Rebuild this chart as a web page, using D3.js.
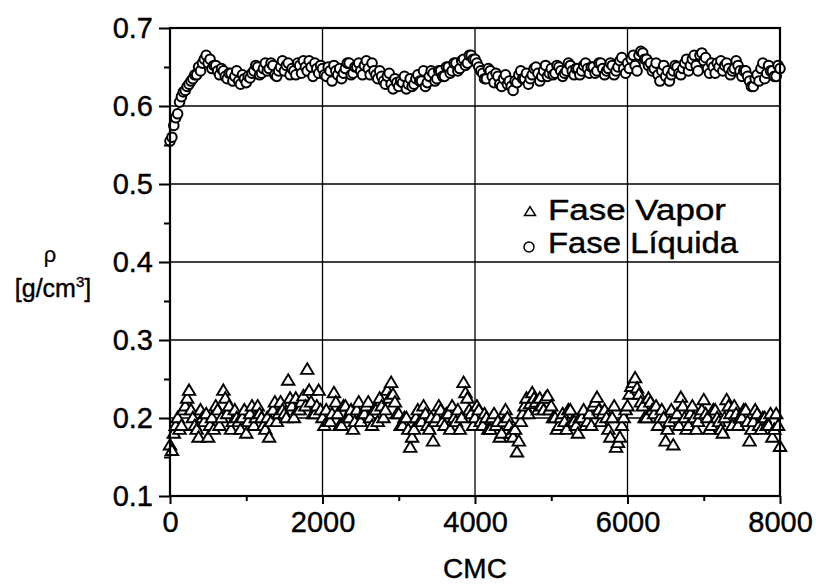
<!DOCTYPE html>
<html>
<head>
<meta charset="utf-8">
<script src="https://cdn.jsdelivr.net/npm/d3@7"></script>
<style>
  body { margin: 0; background: #fff; }
  text { font-family: "Liberation Sans", Arial, sans-serif; fill: #000; stroke: #000; stroke-width: 0.4px; }
</style>
</head>
<body>
<div id="chart"></div>
<script>
// CMC step between samples
var cmcStep = 25;

// density of the liquid phase, g/cm3 (one value every 25 CMC, 0..8000)
var liquido = [
  0.555, 0.56, 0.575, 0.585, 0.59, 0.605, 0.612, 0.618, 0.62, 0.625, 0.628, 0.632, 0.635, 0.64, 0.64, 0.65, 0.645, 0.655, 0.66, 0.665,
  0.655, 0.66, 0.648, 0.652, 0.652, 0.645, 0.64, 0.648, 0.645, 0.638, 0.635, 0.642, 0.642, 0.632, 0.638, 0.645, 0.632, 0.628, 0.64, 0.635,
  0.63, 0.638, 0.636, 0.642, 0.645, 0.652, 0.65, 0.64, 0.642, 0.648, 0.655, 0.645, 0.648, 0.655, 0.652, 0.64, 0.638, 0.645, 0.65, 0.658,
  0.645, 0.652, 0.655, 0.64, 0.648, 0.645, 0.64, 0.655, 0.652, 0.642, 0.658, 0.65, 0.645, 0.658, 0.65, 0.638, 0.655, 0.648, 0.642, 0.652,
  0.648, 0.64, 0.638, 0.65, 0.645, 0.632, 0.652, 0.645, 0.64, 0.648, 0.635, 0.642, 0.648, 0.655, 0.655, 0.64, 0.642, 0.65, 0.65, 0.655,
  0.645, 0.64, 0.652, 0.658, 0.648, 0.64, 0.655, 0.645, 0.64, 0.635, 0.645, 0.638, 0.632, 0.628, 0.638, 0.642, 0.628, 0.622, 0.635, 0.63,
  0.625, 0.632, 0.63, 0.638, 0.622, 0.628, 0.635, 0.625, 0.628, 0.635, 0.64, 0.632, 0.632, 0.645, 0.625, 0.63, 0.638, 0.645, 0.642, 0.632,
  0.635, 0.645, 0.645, 0.638, 0.638, 0.65, 0.65, 0.642, 0.645, 0.655, 0.655, 0.645, 0.648, 0.658, 0.66, 0.652, 0.655, 0.665, 0.665, 0.66,
  0.66, 0.655, 0.65, 0.645, 0.642, 0.635, 0.635, 0.648, 0.645, 0.638, 0.63, 0.642, 0.638, 0.628, 0.625, 0.635, 0.64, 0.628, 0.632, 0.625,
  0.62, 0.632, 0.63, 0.64, 0.645, 0.635, 0.635, 0.642, 0.628, 0.635, 0.64, 0.648, 0.65, 0.642, 0.632, 0.638, 0.645, 0.652, 0.638, 0.642,
  0.648, 0.64, 0.642, 0.652, 0.65, 0.645, 0.638, 0.642, 0.645, 0.655, 0.652, 0.645, 0.64, 0.648, 0.648, 0.64, 0.645, 0.652, 0.655, 0.648,
  0.642, 0.65, 0.65, 0.642, 0.645, 0.655, 0.655, 0.648, 0.64, 0.645, 0.648, 0.655, 0.652, 0.64, 0.645, 0.65, 0.658, 0.662, 0.648, 0.642,
  0.655, 0.648, 0.66, 0.665, 0.652, 0.645, 0.665, 0.67, 0.668, 0.66, 0.66, 0.652, 0.655, 0.645, 0.648, 0.655, 0.64, 0.632, 0.645, 0.652,
  0.638, 0.645, 0.632, 0.64, 0.645, 0.652, 0.65, 0.642, 0.64, 0.648, 0.655, 0.66, 0.645, 0.652, 0.66, 0.665, 0.652, 0.645, 0.665, 0.668,
  0.658, 0.662, 0.648, 0.642, 0.655, 0.65, 0.642, 0.655, 0.65, 0.658, 0.645, 0.652, 0.655, 0.648, 0.64, 0.645, 0.648, 0.658, 0.652, 0.645,
  0.638, 0.645, 0.645, 0.638, 0.632, 0.625, 0.625, 0.635, 0.64, 0.632, 0.648, 0.655, 0.635, 0.642, 0.652, 0.645, 0.645, 0.638, 0.638, 0.652,
  0.648
];

// density of the vapour phase, g/cm3
var vapor = [
  0.165, 0.158, 0.18, 0.19, 0.2, 0.185, 0.19, 0.21, 0.215, 0.225, 0.235, 0.21, 0.2, 0.19, 0.185, 0.175, 0.21, 0.2, 0.195, 0.205,
  0.175, 0.19, 0.2, 0.185, 0.215, 0.21, 0.19, 0.2, 0.235, 0.225, 0.205, 0.215, 0.185, 0.195, 0.21, 0.2, 0.195, 0.185, 0.2, 0.21,
  0.18, 0.195, 0.205, 0.215, 0.19, 0.2, 0.215, 0.205, 0.2, 0.19, 0.185, 0.2, 0.175, 0.195, 0.21, 0.22, 0.195, 0.205, 0.22, 0.21,
  0.205, 0.2, 0.248, 0.225, 0.215, 0.2, 0.225, 0.21, 0.21, 0.22, 0.228, 0.215, 0.262, 0.235, 0.22, 0.205, 0.205, 0.215, 0.235, 0.21,
  0.2, 0.19, 0.21, 0.195, 0.195, 0.205, 0.232, 0.22, 0.205, 0.19, 0.19, 0.215, 0.215, 0.2, 0.2, 0.21, 0.185, 0.195, 0.21, 0.22,
  0.195, 0.205, 0.205, 0.215, 0.22, 0.2, 0.19, 0.21, 0.21, 0.195, 0.225, 0.215, 0.2, 0.21, 0.235, 0.225, 0.245, 0.23, 0.22, 0.205,
  0.205, 0.19, 0.19, 0.2, 0.2, 0.185, 0.162, 0.175, 0.185, 0.2, 0.21, 0.195, 0.195, 0.215, 0.205, 0.19, 0.185, 0.2, 0.17, 0.195,
  0.2, 0.215, 0.21, 0.195, 0.19, 0.205, 0.205, 0.185, 0.215, 0.2, 0.195, 0.21, 0.185, 0.2, 0.245, 0.232, 0.225, 0.21, 0.205, 0.19,
  0.2, 0.215, 0.21, 0.195, 0.19, 0.205, 0.2, 0.185, 0.185, 0.2, 0.205, 0.19, 0.195, 0.175, 0.18, 0.195, 0.21, 0.2, 0.19, 0.18,
  0.175, 0.185, 0.156, 0.17, 0.195, 0.205, 0.215, 0.225, 0.205, 0.218, 0.232, 0.225, 0.22, 0.21, 0.225, 0.215, 0.21, 0.225, 0.228, 0.21,
  0.215, 0.2, 0.2, 0.185, 0.19, 0.2, 0.205, 0.195, 0.185, 0.21, 0.21, 0.195, 0.195, 0.19, 0.18, 0.2, 0.2, 0.21, 0.19, 0.195,
  0.205, 0.19, 0.215, 0.22, 0.226, 0.21, 0.195, 0.205, 0.21, 0.2, 0.185, 0.175, 0.2, 0.215, 0.162, 0.168, 0.175, 0.19, 0.2, 0.21,
  0.215, 0.23, 0.24, 0.245, 0.251, 0.238, 0.23, 0.22, 0.215, 0.2, 0.2, 0.225, 0.22, 0.21, 0.205, 0.215, 0.19, 0.2, 0.21, 0.2,
  0.17, 0.185, 0.195, 0.21, 0.165, 0.2, 0.205, 0.19, 0.226, 0.215, 0.2, 0.185, 0.19, 0.205, 0.215, 0.2, 0.185, 0.195, 0.205, 0.21,
  0.223, 0.205, 0.2, 0.185, 0.19, 0.21, 0.21, 0.2, 0.195, 0.185, 0.18, 0.2, 0.223, 0.215, 0.205, 0.19, 0.215, 0.205, 0.19, 0.2,
  0.2, 0.21, 0.21, 0.195, 0.17, 0.185, 0.195, 0.21, 0.205, 0.19, 0.185, 0.2, 0.2, 0.19, 0.19, 0.205, 0.175, 0.185, 0.205, 0.19,
  0.163
];

var xTicks = [0, 2000, 4000, 6000, 8000];
var xMinor = [1000, 3000, 5000, 7000];
var yTicks = [0.1, 0.2, 0.3, 0.4, 0.5, 0.6, 0.7];
var yMinor = [0.15, 0.25, 0.35, 0.45, 0.55, 0.65];
var legendLabels = ["Fase Vapor", "Fase Líquida"];

var margin = {top: 28, right: 36, bottom: 91, left: 170},
    width = 816 - margin.left - margin.right,
    height = 587 - margin.top - margin.bottom;

var svg = d3.select("#chart").append("svg")
    .attr("width", 816)
    .attr("height", 587);

svg.append("rect").attr("width", 816).attr("height", 587).attr("fill", "#fff");

var g = svg.append("g")
    .attr("transform", "translate(" + margin.left + "," + margin.top + ")");

var x = d3.scaleLinear().domain([0, 8000]).range([0, width]);
var y = d3.scaleLinear().domain([0.1, 0.7]).range([height, 0]);

// grid
g.append("g").selectAll("line").data(yTicks.slice(1, -1)).enter()
    .append("line")
    .attr("x1", 0).attr("x2", width)
    .attr("y1", function(d) { return y(d); })
    .attr("y2", function(d) { return y(d); })
    .attr("stroke", "#000").attr("stroke-width", 1.3);

g.append("g").selectAll("line").data(xTicks.slice(1, -1)).enter()
    .append("line")
    .attr("y1", 0).attr("y2", height)
    .attr("x1", function(d) { return x(d); })
    .attr("x2", function(d) { return x(d); })
    .attr("stroke", "#000").attr("stroke-width", 1.3);

// triangle path centred on the point
var tri = function(w, h) {
    return "M0," + (-h * 0.6) + "L" + (w / 2) + "," + (h * 0.4) + "L" + (-w / 2) + "," + (h * 0.4) + "Z";
};

// liquid phase (circles)
g.append("g").selectAll("circle").data(liquido).enter()
    .append("circle")
    .attr("cx", function(d, i) { return x(i * cmcStep); })
    .attr("cy", function(d) { return y(d); })
    .attr("r", 4.8)
    .attr("fill", "#fff")
    .attr("stroke", "#000")
    .attr("stroke-width", 2);

// vapour phase (triangles)
g.append("g").selectAll("path").data(vapor).enter()
    .append("path")
    .attr("d", tri(12.5, 10.5))
    .attr("transform", function(d, i) { return "translate(" + x(i * cmcStep) + "," + y(d) + ")"; })
    .attr("fill", "#fff")
    .attr("stroke", "#000")
    .attr("stroke-width", 1.9);

// axes
var yAxis = g.append("g")
    .call(d3.axisLeft(y).tickValues(yTicks).tickFormat(d3.format(".1f")).tickSize(11).tickPadding(6));
var yAxisMinor = g.append("g")
    .call(d3.axisLeft(y).tickValues(yMinor).tickFormat("").tickSize(6));
var xAxis = g.append("g")
    .attr("transform", "translate(0," + height + ")")
    .call(d3.axisBottom(x).tickValues(xTicks).tickFormat(d3.format("d")).tickSize(8).tickPadding(7));
var xAxisMinor = g.append("g")
    .attr("transform", "translate(0," + height + ")")
    .call(d3.axisBottom(x).tickValues(xMinor).tickFormat("").tickSize(5));

[yAxis, yAxisMinor, xAxis, xAxisMinor].forEach(function(a) {
    a.select(".domain").remove();
    a.selectAll("line").attr("stroke", "#000").attr("stroke-width", 2);
    a.selectAll("text").style("font-size", "29px").attr("fill", "#000")
        .style("font-family", "'Liberation Sans', Arial, sans-serif");
});

// frame
g.append("rect")
    .attr("width", width).attr("height", height)
    .attr("fill", "none").attr("stroke", "#000").attr("stroke-width", 2.2);

// axis titles
svg.append("text")
    .attr("x", margin.left + width / 2).attr("y", 578)
    .attr("text-anchor", "middle")
    .style("font-size", "28px")
    .text("CMC");

svg.append("text")
    .attr("x", 50).attr("y", 262)
    .attr("text-anchor", "middle")
    .style("font-size", "22px")
    .style("stroke-width", "0.2px")
    .text("ρ");

var yl = svg.append("text")
    .attr("x", 53).attr("y", 297)
    .attr("text-anchor", "middle")
    .style("font-size", "25px");
yl.append("tspan").text("[g/cm");
yl.append("tspan").attr("dy", -10).style("font-size", "15px").text("3");
yl.append("tspan").attr("dy", 10).text("]");

// legend
var legend = svg.append("g");
legend.append("path")
    .attr("d", tri(11, 9))
    .attr("transform", "translate(530,212)")
    .attr("fill", "#fff").attr("stroke", "#000").attr("stroke-width", 1.5);
legend.append("circle")
    .attr("cx", 529).attr("cy", 247).attr("r", 5)
    .attr("fill", "#fff").attr("stroke", "#000").attr("stroke-width", 1.5);
legend.selectAll("text.leg").data(legendLabels).enter()
    .append("text")
    .attr("class", "leg")
    .attr("x", 548)
    .attr("y", function(d, i) { return 220 + i * 33; })
    .attr("textLength", function(d, i) { return i == 0 ? 178 : 190; })
    .attr("lengthAdjust", "spacingAndGlyphs")
    .style("font-size", "29px")
    .text(function(d) { return d; });
</script>
</body>
</html>
